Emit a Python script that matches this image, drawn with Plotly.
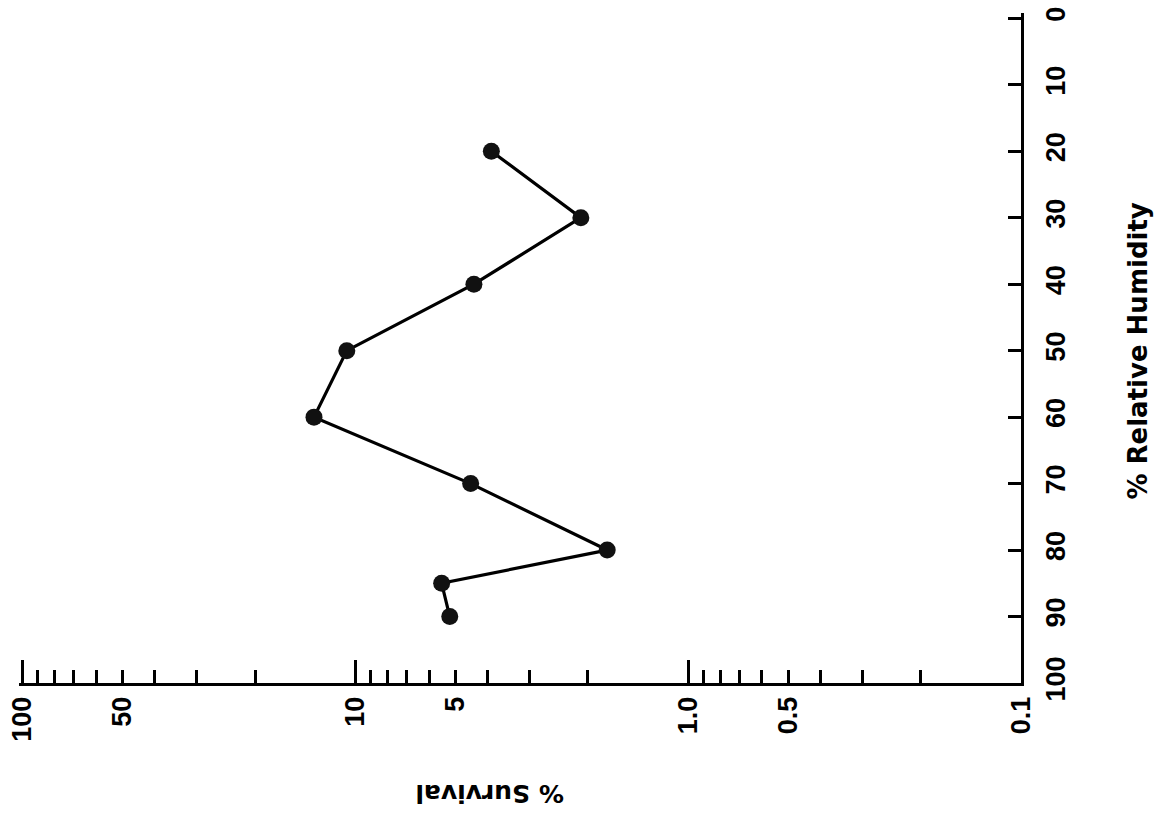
import plotly.graph_objects as go

# % relative humidity and matching % survival
rh = [20, 30, 40, 50, 60, 70, 80, 85, 90]
survival = [3.9, 2.1, 4.4, 10.6, 13.3, 4.5, 1.75, 5.5, 5.2]

# axis ticks
rh_ticks = [0, 10, 20, 30, 40, 50, 60, 70, 80, 90, 100]
surv_label_vals = [100, 50, 10, 5, 1, 0.5, 0.1]
surv_label_text = ["100", "50", "10", "5", "1.0", "0.5", "0.1"]
surv_major = [100, 10, 1]

# every 1..9 multiple in each decade gets a short tick
surv_ticks = [round(m * d, 3) for d in (0.1, 1, 10) for m in range(1, 10)] + [100]
surv_text = []
for v in surv_ticks:
    txt = ""
    for lv, lt in zip(surv_label_vals, surv_label_text):
        if abs(v - lv) < 1e-9:
            txt = lt
    surv_text.append(txt)

TITLE_FONT = "DejaVu Sans"
TICK_FONT = "Liberation Sans"

fig = go.Figure()
fig.add_trace(go.Scatter(
    x=survival, y=rh, mode="lines+markers",
    line=dict(color="black", width=3.2),
    marker=dict(size=17, color="#111111"),
    showlegend=False, hoverinfo="skip",
))
# overlay axis carrying the long decade ticks
fig.add_trace(go.Scatter(x=[1], y=[50], xaxis="x2", mode="markers",
                         marker=dict(opacity=0), showlegend=False, hoverinfo="skip"))

fig.update_layout(
    width=1154, height=815,
    margin=dict(l=16, r=133, t=7, b=132),
    paper_bgcolor="white", plot_bgcolor="white",
    font=dict(family=TICK_FONT, color="black"),
    xaxis=dict(
        type="log", range=[2.01, -1], anchor="y",
        showline=True, linecolor="black", linewidth=3,
        ticks="inside", ticklen=13, tickwidth=2.5, tickcolor="black",
        tickmode="array", tickvals=surv_ticks, ticktext=surv_text,
        tickangle=-90, tickfont=dict(size=27, family=TICK_FONT, weight="bold"),
        showgrid=False, zeroline=False,
    ),
    xaxis2=dict(
        type="log", range=[2.01, -1], overlaying="x", anchor="y", side="bottom",
        ticks="inside", ticklen=23, tickwidth=2.5, tickcolor="black",
        tickmode="array", tickvals=surv_major, showticklabels=False,
        showline=False, showgrid=False, zeroline=False,
    ),
    yaxis=dict(
        range=[100, -0.8], side="right", anchor="x",
        showline=True, linecolor="black", linewidth=3,
        ticks="inside", ticklen=13, tickwidth=2.5, tickcolor="black",
        tickmode="array", tickvals=rh_ticks,
        tickangle=-90, tickfont=dict(size=27, family=TICK_FONT, weight="bold"),
        ticklabelstandoff=9,
        showgrid=False, zeroline=False,
    ),
    annotations=[
        dict(text="% Relative Humidity", xref="paper", yref="paper",
             x=1.1164, y=0.4956, xanchor="center", yanchor="middle",
             showarrow=False, textangle=-90,
             font=dict(size=26, family=TITLE_FONT, weight="bold")),
        dict(text="% Survival", xref="paper", yref="paper",
             x=0.469, y=-0.1657, xanchor="center", yanchor="middle",
             showarrow=False, textangle=180,
             font=dict(size=25, family=TITLE_FONT, weight="bold")),
    ],
)

fig.write_html("out.html")
